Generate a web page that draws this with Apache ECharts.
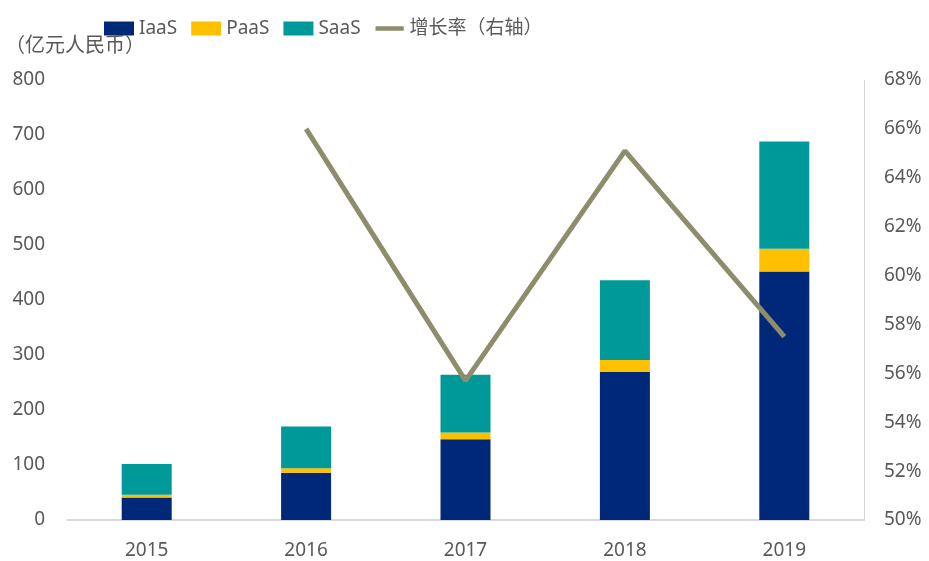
<!DOCTYPE html>
<html>
<head>
<meta charset="utf-8">
<script src="https://cdn.jsdelivr.net/npm/echarts@6/dist/echarts.min.js"></script>
<style>
  html, body { margin: 0; padding: 0; background: #fff; }
  #chart { width: 929px; height: 561px; }
</style>
</head>
<body>
<div id="chart"></div>
<script>
// 数据
var years = ['2015', '2016', '2017', '2018', '2019'];
var iaas = [41, 86, 147, 269, 452];
var paas = [5, 8, 12, 22, 41];
var saas = [56, 76, 105, 145, 195];
var growth = [null, 66.0, 55.7, 65.1, 57.5];

var textColor = '#595959';
var fontFamily = '"Noto Sans", "Noto Sans CJK SC", sans-serif';
// 粗线图例：四角放极小的点撑开包围盒，中间是粗线
var lineIcon = 'path://M0,0L0.01,0L0.01,0.01Z M0,14L0.01,14L0.01,13.99Z M34,0L33.99,0L33.99,0.01Z M1,4.5 L33,4.5 L33,9.5 L1,9.5 Z';

var chart = echarts.init(document.getElementById('chart'));
chart.setOption({
  animation: false,
  textStyle: { fontFamily: fontFamily },
  title: {
    text: '（亿元人民币）',
    left: 0,
    top: 29,
    textStyle: { fontSize: 20, fontWeight: 'normal', color: textColor, fontFamily: '"Noto Sans CJK SC", sans-serif' }
  },
  legend: {
    left: 99,
    top: 14,
    itemWidth: 30,
    itemHeight: 14,
    itemGap: 14,
    textStyle: { fontSize: 19, color: textColor, fontFamily: fontFamily },
    data: [
      { name: 'IaaS', icon: 'rect' },
      { name: 'PaaS', icon: 'rect' },
      { name: 'SaaS', icon: 'rect' },
      { name: '增长率（右轴）', icon: lineIcon, itemStyle: { color: '#8d8d6c' } }
    ]
  },
  grid: { left: 67, right: 65, top: 80, bottom: 41 },
  xAxis: {
    type: 'category',
    data: years,
    axisTick: { show: false },
    axisLine: { lineStyle: { color: '#d9d9d9', width: 2 } },
    axisLabel: { color: textColor, fontSize: 19, margin: 21 }
  },
  yAxis: [
    {
      type: 'value',
      min: 0,
      max: 800,
      interval: 100,
      splitLine: { show: false },
      axisLine: { show: false },
      axisTick: { show: false },
      axisLabel: { color: textColor, fontSize: 19, margin: 22 }
    },
    {
      type: 'value',
      min: 50,
      max: 68,
      interval: 2,
      position: 'right',
      splitLine: { show: false },
      axisLine: { show: true, lineStyle: { color: '#d9d9d9', width: 1 } },
      axisTick: { show: false },
      axisLabel: { color: textColor, fontSize: 19, margin: 20, formatter: '{value}%' }
    }
  ],
  series: [
    { name: 'IaaS', type: 'bar', stack: 'a', barWidth: 50, data: iaas, itemStyle: { color: '#002878' } },
    { name: 'PaaS', type: 'bar', stack: 'a', barWidth: 50, data: paas, itemStyle: { color: '#ffc000' } },
    { name: 'SaaS', type: 'bar', stack: 'a', barWidth: 50, data: saas, itemStyle: { color: '#009999' } },
    {
      name: '增长率（右轴）',
      type: 'line',
      yAxisIndex: 1,
      data: growth,
      symbol: 'none',
      lineStyle: { color: '#8d8d6c', width: 5 },
      itemStyle: { color: '#8d8d6c' }
    }
  ]
});
</script>
</body>
</html>
